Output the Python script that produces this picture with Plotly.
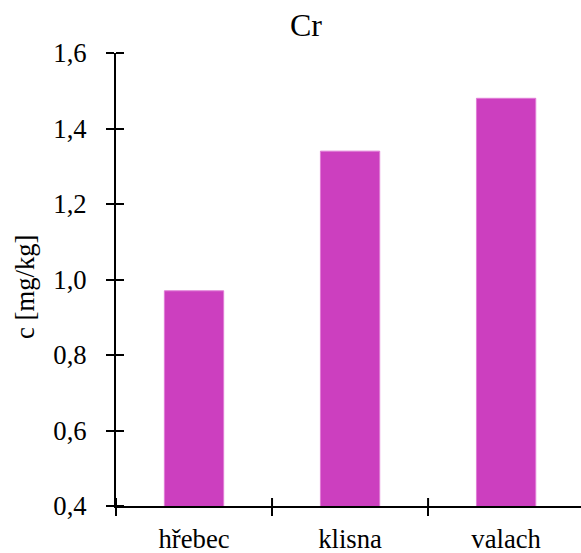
import plotly.graph_objects as go

# Chromium content by horse category
categories = ["hřebec", "klisna", "valach"]
values = [0.97, 1.34, 1.48]
y_ticks = [0.4, 0.6, 0.8, 1.0, 1.2, 1.4, 1.6]
y_tick_text = ["0,4", "0,6", "0,8", "1,0", "1,2", "1,4", "1,6"]

W, H = 581, 553
L, T, B = 116, 53, 47
font_family = "Liberation Serif"
txt = dict(family=font_family, size=26.7, color="black")

fig = go.Figure()
fig.add_trace(go.Bar(
    x=categories, y=values, width=0.38,
    marker=dict(color="#CC3FBF", line=dict(color="#E07CD6", width=1)),
))

fig.update_layout(
    width=W, height=H,
    margin=dict(l=L, r=0, t=T, b=B, pad=0),
    plot_bgcolor="white", paper_bgcolor="white",
    showlegend=False,
    font=txt,
    title=dict(text="Cr", x=306 / W, xref="container", xanchor="center",
               y=1 - 25 / H, yref="container", yanchor="middle",
               font=dict(family=font_family, size=32, color="black")),
    xaxis=dict(showgrid=False, zeroline=False, showline=True,
               linecolor="black", linewidth=2,
               type="category", categoryorder="array",
               categoryarray=categories, range=[-0.5, 2.48],
               ticks="outside", tickson="boundaries",
               tickcolor="black", tickwidth=2, ticklen=8, tickfont=txt,
               ticklabelstandoff=8),
    yaxis=dict(showgrid=False, zeroline=False, showline=True,
               linecolor="black", linewidth=2,
               range=[0.4, 1.6], tickvals=y_ticks, ticktext=y_tick_text,
               ticks="outside", tickcolor="black", tickwidth=2, ticklen=8,
               tickfont=txt, ticklabelstandoff=14,
               minor=dict(tickvals=y_ticks, ticks="inside", ticklen=8,
                          tickwidth=2, tickcolor="black", showgrid=False)),
    annotations=[dict(text="c [mg/kg]", textangle=-90, showarrow=False,
                      xref="paper", yref="paper",
                      x=(25 - L) / (W - L), y=(506 - 287) / (506 - T),
                      xanchor="center", yanchor="middle", font=txt)],
)

# upper halves of the category-boundary ticks, crossing the x axis line
for b in [-0.5, 0.5, 1.5]:
    fig.add_shape(type="line", xref="x", yref="paper", x0=b, x1=b,
                  y0=0, y1=8 / (506 - T),
                  line=dict(color="black", width=2))

fig.write_html("out.html")
